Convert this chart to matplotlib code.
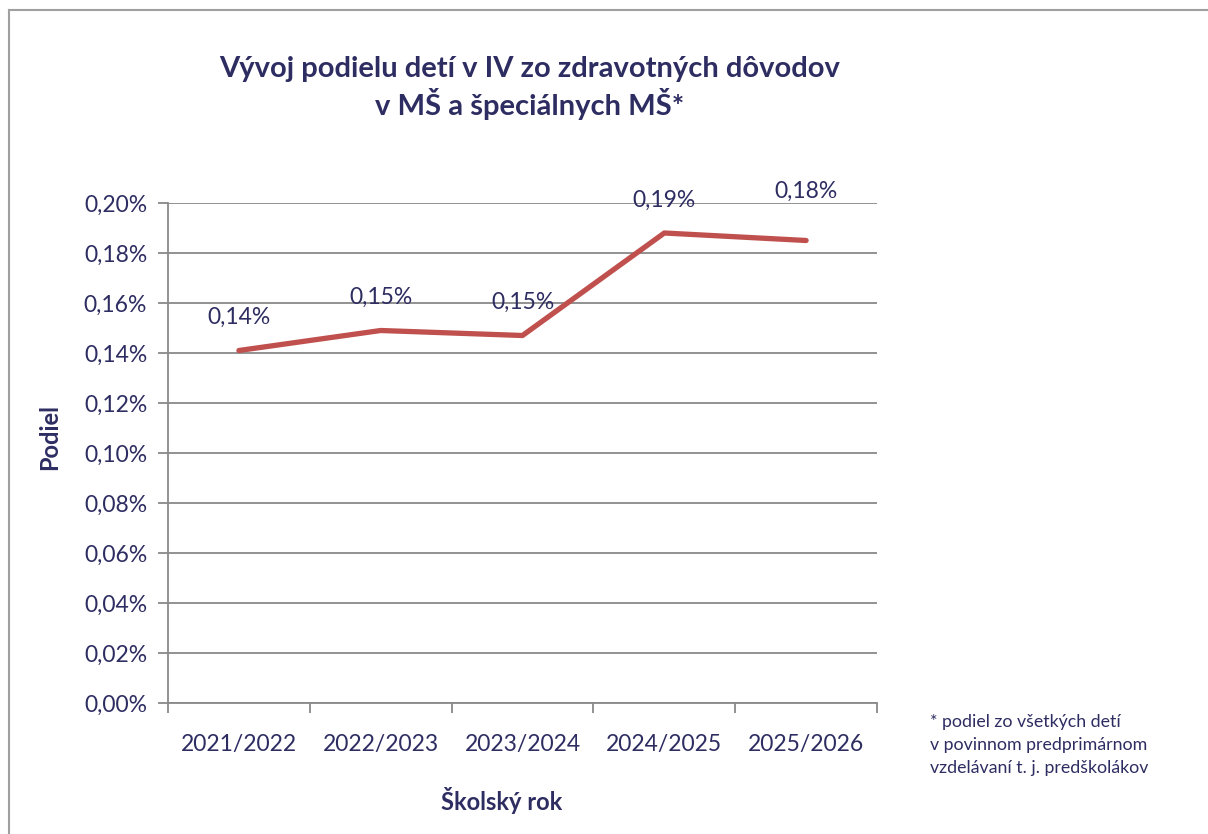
import numpy as np
import matplotlib.pyplot as plt
from matplotlib.lines import Line2D
from matplotlib.ticker import FuncFormatter, FixedLocator

plt.rcParams['font.family'] = ['Lato', 'DejaVu Sans']

# data
roky = ['2021/2022', '2022/2023', '2023/2024', '2024/2025', '2025/2026']
podiel = [0.141, 0.149, 0.147, 0.188, 0.185]
popisky = ['0,14%', '0,15%', '0,15%', '0,19%', '0,18%']
posun = [33, 33, 33, 33, 49]  # odsadenie popiskov v px

navy = '#2e2d62'
cervena = '#c0504d'
siva = '#898989'

fig = plt.figure(figsize=(12.08, 8.34), dpi=100)
ax = fig.add_axes([168/1208, 1 - 703/834, 709/1208, 500/834])

x = np.arange(len(roky))
ax.plot(x, podiel, color=cervena, lw=3.8, solid_capstyle='round', zorder=3)
for xi, v, t, o in zip(x, podiel, popisky, posun):
    ax.annotate(t, (xi, v), xytext=(0, o * 0.72), textcoords='offset points',
                ha='center', va='center', fontsize=16.5, color=navy, zorder=4)

ax.set_xlim(-0.5, len(roky) - 0.5)
ax.set_ylim(0, 0.2)
ax.set_yticks(np.arange(0, 0.2001, 0.02))
ax.yaxis.set_major_formatter(FuncFormatter(lambda v, p: ('%.2f%%' % v).replace('.', ',')))
ax.grid(axis='y', color=siva, lw=1.3)
ax.set_axisbelow(True)

ax.set_xticks(x)
ax.set_xticklabels(roky)
ax.xaxis.set_minor_locator(FixedLocator(np.arange(-0.5, len(roky), 1.0)))
ax.tick_params(axis='x', which='major', length=0, pad=22, labelsize=16.5, labelcolor=navy)
ax.tick_params(axis='x', which='minor', length=7, width=1.3, color=siva, direction='out')
ax.tick_params(axis='y', length=7, width=1.3, color=siva, pad=8, labelsize=16.5, labelcolor=navy)

for s in ['top', 'right']:
    ax.spines[s].set_visible(False)
for s in ['left', 'bottom']:
    ax.spines[s].set_color(siva)
    ax.spines[s].set_linewidth(1.3)

ax.set_xlabel('Školský rok', fontsize=17, fontweight='bold', color=navy, va='center')
ax.xaxis.set_label_coords((502 - 168) / 709, -(800 - 703) / 500)
ax.set_ylabel('Podiel', fontsize=17, fontweight='bold', color=navy, va='center')
ax.yaxis.set_label_coords(-(168 - 50) / 709, (703 - 437) / 500)

fig.text(530/1208, 1 - 88/834, 'Vývoj podielu detí v IV zo zdravotných dôvodov\nv MŠ a špeciálnych MŠ*',
         ha='center', va='center', fontsize=21, fontweight='bold', color=navy, linespacing=1.25)
fig.text(930/1208, 1 - 745/834, '* podiel zo všetkých detí\nv povinnom predprimárnom\nvzdelávaní t. j. predškolákov',
         ha='left', va='center', fontsize=12.8, color=navy, linespacing=1.5)

# ramcek
fig.add_artist(Line2D([9/1208, 9/1208], [0, 1 - 10/834], color='#a0a0a0', lw=1.5))
fig.add_artist(Line2D([9/1208, 1], [1 - 10/834, 1 - 10/834], color='#a0a0a0', lw=1.5))

fig.savefig('out.png', dpi=100)
